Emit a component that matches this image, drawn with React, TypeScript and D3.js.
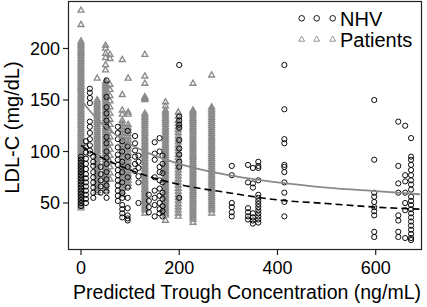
import React from "react";
import * as d3 from "d3";

// ---- Data ----
const xTicks = [0, 200, 400, 600];
const yTicks = [50, 100, 150, 200];

// Patients: triangle columns (concentration ng/mL) and LDL-C values (mg/dL)
const patientConc = [0, 33, 50, 59, 84, 96, 130, 172, 198, 228, 266];
const patientValues: number[][] = [
  [237, 223, 207, 205, 203, 201, 199, 197, 195, 193, 191, 189, 187, 185, 183, 181, 179, 177, 175, 173, 171, 169, 167, 165, 163, 161, 159, 157, 155, 153, 151, 149, 147, 145, 143, 141, 139, 137, 135, 133, 131, 129, 127, 125, 123, 121, 119, 117, 115, 113, 111, 109, 107, 105, 103, 101, 99, 97, 95, 93, 91, 89, 87, 85, 83, 81, 79, 77, 75, 73, 71, 69, 67, 65, 63, 61, 59, 57, 55, 53, 51, 49, 47, 45],
  [171, 150, 148, 146, 144, 142, 140, 138, 136, 134, 132, 130, 128, 126, 124, 122, 120, 118, 116, 114, 112, 110, 108, 106, 104, 102, 100, 98, 96, 94, 92, 90, 88, 86, 84, 82, 80, 78, 76, 74, 72, 70, 68, 66, 64, 62, 60],
  [203, 200, 195, 191, 184, 179, 168, 166, 164, 162, 160, 158, 156, 154, 152, 150, 148, 146, 144, 142, 140, 138, 136, 134, 132, 130, 128, 126, 124, 122, 120, 118, 116, 114, 112, 110, 108, 106, 104, 102, 100, 98, 96, 94, 92, 90, 88, 86, 84, 82, 80, 78, 76, 74, 72, 70, 68, 66, 64, 62],
  [194, 190, 165, 160, 154, 149, 143, 137, 131, 126, 120, 114, 108, 102, 96, 90, 85, 79, 73],
  [189, 155, 140, 136, 130, 127, 124, 121, 118, 115, 112, 109, 106, 103, 100, 97, 94, 91, 88, 85, 82, 79, 76, 73, 70, 67, 64, 61, 58],
  [171, 138, 136, 126, 123, 120, 117, 114, 111, 108, 105, 102, 99, 96, 93, 90, 87, 84, 81, 78, 75, 72, 69, 66],
  [194, 173, 166, 153, 152, 151, 150, 137, 135, 133, 131, 129, 127, 125, 123, 121, 119, 117, 115, 113, 111, 109, 107, 105, 103, 101, 99, 97, 95, 93, 91, 89, 87, 85, 83, 81, 79, 77, 75, 73, 71, 69, 67, 65, 63, 61, 59, 57, 55, 53, 51, 49, 47, 45, 43, 40],
  [148, 144, 140, 138, 136, 134, 132, 130, 128, 126, 124, 122, 120, 118, 116, 114, 112, 110, 108, 106, 104, 102, 100, 98, 96, 94, 92, 90, 88, 86, 84, 82, 80, 78, 76, 74, 72, 70, 68, 66, 64, 62, 60, 58, 56, 54, 52, 50, 48, 46, 44, 42, 40, 38, 33],
  [138, 134, 130, 127, 124, 121, 118, 115, 112, 109, 106, 103, 100, 97, 94, 91, 88, 85, 82, 79, 76, 73, 70, 67, 64, 61, 58, 55, 52, 49, 46, 43, 40, 37],
  [166, 140, 138, 136, 134, 132, 130, 128, 126, 124, 122, 120, 118, 116, 114, 112, 110, 108, 106, 104, 102, 100, 98, 96, 94, 92, 90, 88, 86, 84, 82, 80, 78, 76, 74, 72, 70, 68, 66, 64, 62, 60, 58, 56, 54, 52, 50, 48, 46, 44, 42, 40, 38, 36, 34, 31],
  [174, 143, 141, 139, 137, 135, 133, 131, 129, 127, 125, 123, 121, 119, 117, 115, 113, 111, 109, 107, 105, 103, 101, 99, 97, 95, 93, 91, 89, 87, 85, 83, 81, 79, 77, 75, 73, 71, 69, 67, 65, 63, 61, 59, 57, 55, 53, 51, 49, 47, 45, 43, 40],
];

// NHV: circle columns
const nhvConc = [0, 10, 18, 25, 40, 52, 75, 84, 95, 110, 117, 138, 150, 160, 166, 200, 307, 340, 350, 361, 414, 597, 646, 660, 672];
const nhvValues: number[][] = [
  [95, 92, 89, 86, 83, 80, 77, 74, 71, 68, 65, 62, 59, 56, 53, 50, 47],
  [110, 104, 99, 93, 88, 83, 78, 74, 70, 66, 62, 58, 54, 50],
  [161, 157, 152, 147, 129, 124, 118, 112, 106, 101, 98],
  [95, 90, 86, 80, 75, 70, 65, 60, 55],
  [85, 78, 72, 66, 60],
  [169, 153, 143, 137, 130, 124, 114, 108, 100, 94, 88, 80, 73, 67, 61, 55],
  [124, 118, 112, 104, 97, 92, 87, 82, 77, 72, 67, 62, 57, 52],
  [110, 100, 90, 80, 70, 60, 55, 48, 44, 40, 36],
  [120, 105, 95, 85, 75, 65, 55, 45, 38, 35, 33],
  [115, 108, 101, 95, 88, 81],
  [96, 90, 84, 76, 70, 50],
  [58, 52, 46, 41],
  [109, 98, 92, 75, 62, 55, 48, 37],
  [113, 100, 85, 80, 72, 64, 57, 50, 44, 40],
  [96, 88, 79, 70, 60, 54, 47, 42, 37],
  [184, 134, 130, 126, 123, 111, 103, 97, 90, 85, 55],
  [86, 77, 50, 46, 41, 37],
  [87, 70, 45, 41, 37, 34],
  [84, 69, 65, 40, 36, 33, 30],
  [90, 86, 84, 72, 58, 55, 52, 49, 46, 43, 40, 37, 34, 31],
  [184, 141, 112, 108, 87, 85, 80, 70, 60, 51, 37],
  [150, 92, 60, 56, 51, 46, 42, 38, 22, 17],
  [129, 86, 69, 60, 38, 33, 22, 17],
  [125, 77, 71, 60, 50, 43, 16],
  [113, 95, 92, 87, 82, 77, 72, 68, 63, 56, 52, 48, 44, 40, 36, 32, 28, 24, 20, 16, 14],
];

// Fitted curves
const fitConc = [0, 30, 60, 100, 150, 200, 300, 400, 500, 600, 690];
const patientFit = [150, 133, 120, 107, 96, 88, 77, 70, 65, 61.5, 58.5];
const nhvFit = [106, 97, 90, 82, 74, 68, 60, 53, 49.5, 46, 44];

const legendLabels = ["NHV", "Patients"];

const GRAY = "#8a8a8a";
const FONT = "'Liberation Sans', Arial, sans-serif";

export default function App() {
  const W = 427, H = 307;
  const left = 68, right = 422, top = 1, bottom = 250;
  const x = d3.scaleLinear().domain([0, 600]).range([81, 375.7]);
  const y = d3.scaleLinear().domain([50, 200]).range([203, 48.5]);

  const tri = d3.symbol(d3.symbolTriangle, 15)()!;

  const line = d3
    .line<[number, number]>()
    .x((d) => x(d[0]))
    .y((d) => y(d[1]))
    .curve(d3.curveMonotoneX);

  const patientPts: [number, number][] = [];
  patientConc.forEach((c, i) => patientValues[i].forEach((v) => patientPts.push([c, v])));
  const nhvPts: [number, number][] = [];
  nhvConc.forEach((c, i) => nhvValues[i].forEach((v) => nhvPts.push([c, v])));

  const pFit = fitConc.map((c, i) => [c, patientFit[i]] as [number, number]);
  const nFit = fitConc.map((c, i) => [c, nhvFit[i]] as [number, number]);

  return (
    <svg
      width={W}
      height={H}
      style={{ position: "absolute", left: 0, top: 0, background: "#fff" }}
      fontFamily={FONT}
    >
      <rect x={0} y={0} width={W} height={H} fill="#fff" />
      <defs>
        <clipPath id="plot">
          <rect x={left} y={top} width={right - left} height={bottom - top} />
        </clipPath>
      </defs>
      <g clipPath="url(#plot)">
        {patientPts.map((d, i) => (
          <path
            key={"p" + i}
            d={tri}
            transform={`translate(${x(d[0])},${y(d[1])})`}
            fill="none"
            stroke={GRAY}
            strokeWidth={1.35}
          />
        ))}
        {nhvPts.map((d, i) => (
          <circle
            key={"n" + i}
            cx={x(d[0])}
            cy={y(d[1])}
            r={2.6}
            fill="none"
            stroke="#000"
            strokeWidth={0.95}
          />
        ))}
        <path d={line(pFit)!} fill="none" stroke={GRAY} strokeWidth={1.8} />
        <path d={line(nFit)!} fill="none" stroke="#000" strokeWidth={1.6} strokeDasharray="7,4" />
      </g>
      <rect
        x={left + 0.5}
        y={top + 0.5}
        width={right - left - 1}
        height={bottom - top - 1}
        fill="none"
        stroke="#222"
        strokeWidth={1.2}
      />
      {yTicks.map((t) => (
        <g key={"yt" + t}>
          <line x1={left - 5} x2={left} y1={y(t)} y2={y(t)} stroke="#222" strokeWidth={1.2} />
          <text x={left - 8} y={y(t)} dy="0.36em" textAnchor="end" fontSize={18}>
            {t}
          </text>
        </g>
      ))}
      {xTicks.map((t) => (
        <g key={"xt" + t}>
          <line x1={x(t)} x2={x(t)} y1={bottom} y2={bottom + 5} stroke="#222" strokeWidth={1.2} />
          <text x={x(t)} y={274} textAnchor="middle" fontSize={18}>
            {t}
          </text>
        </g>
      ))}
      <text x={247} y={299} textAnchor="middle" fontSize={19.5}>
        Predicted Trough Concentration (ng/mL)
      </text>
      <text transform="translate(19,127.5) rotate(-90)" textAnchor="middle" fontSize={20}>
        LDL-C (mg/dL)
      </text>
      {/* legend */}
      <g>
        {[301.7, 316.7, 332.7].map((lx) => (
          <circle key={"lc" + lx} cx={lx} cy={18.3} r={2.8} fill="none" stroke="#000" strokeWidth={0.9} />
        ))}
        <text x={340} y={26} fontSize={20}>
          {legendLabels[0]}
        </text>
        {[301.7, 316.7, 332.7].map((lx) => (
          <path
            key={"lt" + lx}
            d={tri}
            transform={`translate(${lx},39.5)`}
            fill="none"
            stroke={GRAY}
            strokeWidth={0.9}
          />
        ))}
        <text x={340} y={46.5} fontSize={20}>
          {legendLabels[1]}
        </text>
      </g>
    </svg>
  );
}
